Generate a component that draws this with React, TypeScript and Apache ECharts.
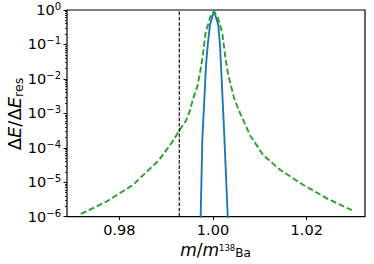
import React, { useEffect, useRef } from 'react';
import * as echarts from 'echarts';

// ---- data ----
const greenX = [0.9718, 0.9772, 0.9829, 0.9885, 0.9912, 0.9928, 0.9942, 0.995, 0.9958, 0.9966, 0.9972, 0.9978, 0.9984, 0.9994, 1.0002, 1.001, 1.002, 1.0026, 1.0032, 1.0037, 1.0046, 1.0058, 1.0079, 1.0107, 1.0143, 1.0193, 1.0243, 1.0296];
const greenY = [1.2e-6, 2.72e-6, 8.3e-6, 4.47e-5, 1.41e-4, 3.16e-4, 6.0e-4, 1.12e-3, 2.8e-3, 5.6e-3, 1.41e-2, 4.5e-2, 0.21, 0.63, 0.92, 0.63, 0.21, 4.5e-2, 1.41e-2, 7.4e-3, 2.5e-3, 1.0e-3, 2.3e-4, 6.2e-5, 2.3e-5, 8.3e-6, 3.4e-6, 1.55e-6];
const blueX = [0.9972, 0.99737, 0.99772, 0.99851, 0.99887, 0.99936, 1.00021, 1.00113, 1.00149, 1.00171, 1.00245, 1.00314, 1.0033];
const blueY = [1e-7, 1.05e-6, 1.7e-4, 2.5e-2, 9.6e-2, 0.37, 0.93, 0.37, 9.6e-2, 2.5e-2, 1.7e-4, 1.05e-6, 1e-7];
const vlineX = 0.9928;
const vlineY = [1e-6, 1];

const xMin = 0.96884;
const xMax = 1.03244;
const xTicks = [0.98, 1.0, 1.02];
const yTicks = [1e-6, 1e-5, 1e-4, 1e-3, 1e-2, 1e-1, 1];
const yMinorMult = [2, 3, 4, 5, 6, 7, 8, 9];

const FONT = 'DejaVu Sans';

export default function App() {
  const ref = useRef<HTMLDivElement>(null);
  useEffect(() => {
    if (!ref.current) return;
    const chart = echarts.init(ref.current, null, { renderer: 'svg' });
    const yMinor: number[] = [];
    for (let i = 0; i < yTicks.length - 1; i++) {
      for (const m of yMinorMult) yMinor.push(m * yTicks[i]);
    }
    const option: any = {
      animation: false,
      backgroundColor: '#ffffff',
      textStyle: { fontFamily: FONT },
      grid: {
        left: 67, top: 10, right: 9, bottom: 47.3,
        show: true, borderColor: '#000', borderWidth: 1.2,
        containLabel: false, outerBoundsMode: 'none',
      },
      xAxis: {
        type: 'value', min: xMin, max: xMax,
        axisLine: { show: false },
        splitLine: { show: false },
        axisTick: { show: true, customValues: xTicks, length: 3.5, lineStyle: { color: '#000', width: 1 } },
        axisLabel: {
          customValues: xTicks,
          formatter: (v: number) => Number(v).toFixed(2),
          fontSize: 14.5, color: '#000', fontFamily: FONT, margin: 6,
        },
      },
      yAxis: [
        {
          type: 'log', logBase: 10, min: 1e-6, max: 1,
          axisLine: { show: false },
          splitLine: { show: false },
          axisTick: { show: true, customValues: yTicks, length: 3.5, lineStyle: { color: '#000', width: 1 } },
          axisLabel: {
            customValues: yTicks,
            margin: 6,
            formatter: (v: number) => {
              const e = Math.round(Math.log10(Number(v)));
              return `{b|10}{s|${e === 0 ? '0' : '\u2212' + (-e)}}`;
            },
            rich: {
              b: { fontSize: 14.5, fontFamily: FONT, color: '#000', lineHeight: 19, height: 19, verticalAlign: 'bottom' },
              s: { fontSize: 10, fontFamily: FONT, color: '#000', lineHeight: 12, height: 12, verticalAlign: 'top' },
            },
          },
        },
        {
          type: 'log', logBase: 10, min: 1e-6, max: 1, position: 'left',
          axisLine: { show: false },
          splitLine: { show: false },
          axisLabel: { show: false },
          axisTick: { show: true, customValues: yMinor, length: 2, lineStyle: { color: '#000', width: 0.8 } },
        },
      ],
      graphic: [
        {
          type: 'text', x: 215.5, y: 250,
          style: {
            text: '{i|m}{n|/}{i|m}{p|138}{q|Ba}',
            align: 'center', verticalAlign: 'middle',
            rich: {
              i: { fontSize: 17, fontStyle: 'italic', fontFamily: FONT, fill: '#000', lineHeight: 20, height: 20, verticalAlign: 'middle' },
              n: { fontSize: 17, fontFamily: FONT, fill: '#000', lineHeight: 20, height: 20, verticalAlign: 'middle' },
              p: { fontSize: 8.5, fontFamily: FONT, fill: '#000', lineHeight: 16, height: 16, verticalAlign: 'top' },
              q: { fontSize: 12, fontFamily: FONT, fill: '#000', lineHeight: 14, height: 14, verticalAlign: 'bottom' },
            },
          },
        },
        {
          type: 'text', x: 14, y: 114, rotation: Math.PI / 2,
          style: {
            text: '{n|\u0394}{i|E}{n|/\u0394}{i|E}{r|res}',
            align: 'center', verticalAlign: 'middle',
            rich: {
              n: { fontSize: 18, fontFamily: FONT, fill: '#000', lineHeight: 24, height: 24, verticalAlign: 'top' },
              i: { fontSize: 18, fontStyle: 'italic', fontFamily: FONT, fill: '#000', lineHeight: 24, height: 24, verticalAlign: 'top' },
              r: { fontSize: 12.6, fontFamily: FONT, fill: '#000', lineHeight: 16, height: 16, verticalAlign: 'bottom' },
            },
          },
        },
      ],
      series: [
        {
          type: 'line', name: 'blue',
          data: blueX.map((x, i) => [x, blueY[i]]),
          showSymbol: false, symbol: 'none', clip: true,
          lineStyle: { color: '#1f77b4', width: 1.9 },
          itemStyle: { color: '#1f77b4' },
          z: 2,
        },
        {
          type: 'line', name: 'green',
          data: greenX.map((x, i) => [x, greenY[i]]),
          showSymbol: false, symbol: 'none', clip: true,
          lineStyle: { color: '#2ca02c', width: 1.9, type: [6, 2.8] },
          itemStyle: { color: '#2ca02c' },
          z: 3,
        },
        {
          type: 'line', name: 'vline',
          data: vlineY.map((y) => [vlineX, y]),
          showSymbol: false, symbol: 'none', clip: true,
          lineStyle: { color: '#000', width: 1.1, type: [3.7, 1.6] },
          itemStyle: { color: '#000' },
          z: 4,
        },
      ],
    };
    chart.setOption(option);
    return () => chart.dispose();
  }, []);
  return (
    <div
      ref={ref}
      style={{ position: 'fixed', left: 0, top: 0, width: 374, height: 264, background: '#fff' }}
    />
  );
}
